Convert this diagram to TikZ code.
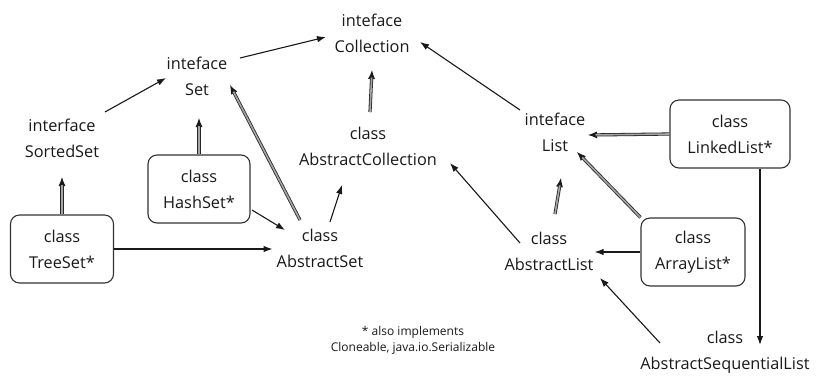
\documentclass[tikz,border=0pt]{standalone}
\usepackage{fontspec}
\setmainfont{Open Sans}
\usetikzlibrary{arrows.meta,calc}
\newcommand{\implarrow}[2]{%
  \draw[impltip] #1 -- #2;
  \draw[impldbl] #1 -- #2;}
\begin{document}
\begin{tikzpicture}[x=1pt,y=-1pt,
  lbl/.style={align=center,font=\fontsize{16.3}{26}\selectfont,inner sep=1pt,text=black!90},
  cls/.style={lbl,draw=black!80,line width=1.1pt,rounded corners=9pt,minimum height=68pt},
  ext/.style={draw=black!90,line width=1.1pt,-{Latex[length=9pt,width=6.5pt]}},
  impltip/.style={draw=black!90,line width=1pt,-{Latex[length=9pt,width=7pt]}},
  impldbl/.style={draw=black!85,double=black!35,double distance=1.6pt,line width=0.8pt,shorten >=7.5pt}]
\useasboundingbox (0,0) rectangle (820,376);
\fill[white] (0,0) rectangle (820,376);
% nodes
\node[lbl] (coll) at (372,33) {inteface\\Collection};
\node[lbl] (set) at (197,76) {inteface\\Set};
\node[lbl] (sset) at (62,138) {interface\\SortedSet};
\node[cls,minimum width=102pt] (hs) at (199,189) {class\\HashSet*};
\node[cls,minimum width=103pt] (ts) at (62,249) {class\\TreeSet*};
\node[lbl] (as) at (320,248) {class\\AbstractSet};
\node[lbl] (ac) at (368,146) {class\\AbstractCollection};
\node[lbl] (list) at (555,132) {inteface\\List};
\node[cls,minimum width=120pt] (ll) at (730,134) {class\\LinkedList*};
\node[lbl] (al) at (549,251) {class\\AbstractList};
\node[cls,minimum width=104pt] (arr) at (693,252) {class\\ArrayList*};
\node[lbl] (asl) at (725,352) {class\\AbstractSequentialList};
\node[align=center,font=\fontsize{12}{16}\selectfont,inner sep=0pt,text=black!90] (note) at (413,340) {* also implements\\Cloneable, java.io.Serializable};
% single arrows
\draw[ext] ($(set.center)+(43,-18)$) -- ($(coll.center)+(-46,4)$);
\draw[ext] ($(sset.center)+(43,-26)$) -- ($(set.center)+(-31,2)$);
\draw[ext] ($(list.center)+(-35,-22)$) -- ($(coll.center)+(48,9)$);
\draw[ext] (ts.east) -- ($(ts.east -| as.west)+(-3,0)$);
\draw[ext] ($(hs.center)+(53,21)$) -- ($(as.center)+(-35,-18)$);
\draw[ext] ($(as.center)+(10,-26)$) -- ($(ac.center)+(-26,39)$);
\draw[ext] ($(al.center)+(-29,-8)$) -- ($(ac.center)+(82,17)$);
\draw[ext] (arr.west) -- (arr.west -| al.east);
\draw[ext] ($(asl.center)+(-65,-9)$) -- ($(al.center)+(51,27)$);
\draw[ext] ($(ll.south)+(30,0)$) -- ($(asl.center)+(35,-7)$);
% implements (double) arrows
\implarrow{($(ac.center)+(2,-34)$)}{($(coll.center)+(0,37)$)}
\implarrow{(hs.north)}{($(set.center)+(2,42)$)}
\implarrow{($(as.center)+(-20,-28)$)}{($(set.center)+(33,9)$)}
\implarrow{(ts.north)}{($(sset.center)+(0,39)$)}
\implarrow{(ll.west)}{($(list.center)+(33,3)$)}
\implarrow{($(al.center)+(6,-37)$)}{($(list.center)+(6,46)$)}
\implarrow{(arr.north west)}{($(list.center)+(22,20)$)}
\end{tikzpicture}
\end{document}
